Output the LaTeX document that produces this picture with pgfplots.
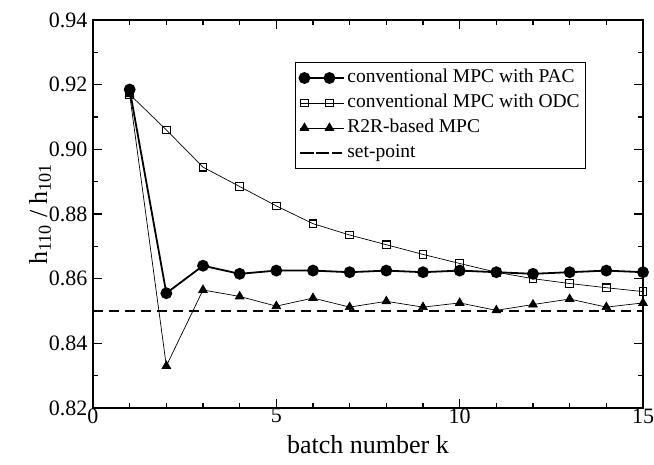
\documentclass[border=0pt]{standalone}
\usepackage{pgfplots}
\pgfplotsset{compat=1.18}
\usetikzlibrary{calc}
\usepackage{fontspec}
\setmainfont{Liberation Serif}
\begin{document}
\begin{tikzpicture}
\begin{axis}[
  scale only axis, width=550pt, height=388pt,
  xmin=0, xmax=15, ymin=0.82, ymax=0.94,
  xtick={0,5,10,15}, minor xtick={1,2,3,4,6,7,8,9,11,12,13,14},
  ytick={0.82,0.84,0.86,0.88,0.90,0.92,0.94},
  minor ytick={0.83,0.85,0.87,0.89,0.91,0.93},
  yticklabel style={xshift=-2pt, /pgf/number format/.cd,fixed,fixed zerofill,precision=2},
  /pgf/number format/assume math mode=true,
  tick align=inside,
  major tick length=9pt, minor tick length=5pt,
  every tick/.style={black, line width=1.2pt},
  axis line style={line width=1.6pt},
  tick label style={font=\fontsize{22}{24}\selectfont},
  xticklabel style={yshift=3pt},
  xlabel={batch number k},
  ylabel={h\textsubscript{110} / h\textsubscript{101}},
  xlabel style={font=\fontsize{26}{28}\selectfont, at={(axis description cs:0.5,-0.0954)}, anchor=center},
  ylabel style={font=\fontsize{26}{28}\selectfont, at={(axis description cs:-0.0964,0.5)}, anchor=center},
  legend style={at={(0.367,0.892)}, anchor=north west, draw=black, line width=1.2pt,
    font=\fontsize{19.5}{22}\selectfont, inner xsep=4pt, inner ysep=4pt,
    nodes={inner sep=2pt, text height=14pt, text depth=5pt},
    row sep=2pt, cells={anchor=west}},
  legend image code/.code={\draw[mark repeat=2,mark phase=1,#1] plot coordinates {(4pt,0pt) (16.5pt,0pt) (29pt,0pt)};
    \path (0pt,0pt) -- (44pt,0pt);},
]
\addplot[black, line width=1.8pt, mark=*, mark size=5pt, mark options={solid}] coordinates {
(1,0.9185) (2,0.8555) (3,0.8640) (4,0.8615) (5,0.8625) (6,0.8625) (7,0.8620) (8,0.8625)
(9,0.8620) (10,0.8625) (11,0.8620) (12,0.8615) (13,0.8620) (14,0.8625) (15,0.8620)};
\addlegendentry{conventional MPC with PAC}
\addplot[black, line width=0.7pt, mark=square, mark size=3.8pt, mark options={solid, line width=1.2pt}] coordinates {
(1,0.9170) (2,0.9060) (3,0.8945) (4,0.8885) (5,0.8825) (6,0.8770) (7,0.8735) (8,0.8705)
(9,0.8675) (10,0.8647) (11,0.8620) (12,0.8600) (13,0.8585) (14,0.8572) (15,0.8560)};
\addlegendentry{conventional MPC with ODC}
\addplot[black, line width=0.7pt, mark=triangle*, mark size=5pt, mark options={solid}] coordinates {
(1,0.9170) (2,0.8330) (3,0.8565) (4,0.8545) (5,0.8515) (6,0.8540) (7,0.8512) (8,0.8530)
(9,0.8512) (10,0.8525) (11,0.8502) (12,0.8520) (13,0.8537) (14,0.8512) (15,0.8525)};
\addlegendentry{R2R-based MPC}
\addplot[black, line width=1.4pt, dash pattern=on 10pt off 6pt] coordinates {(0,0.85) (15,0.85)};
\addlegendentry{set-point}
\end{axis}
\pgfresetboundingbox
\path ($(current axis.south west)+(-93pt,-56pt)$) rectangle ($(current axis.north east)+(11pt,20pt)$);
\end{tikzpicture}
\end{document}
